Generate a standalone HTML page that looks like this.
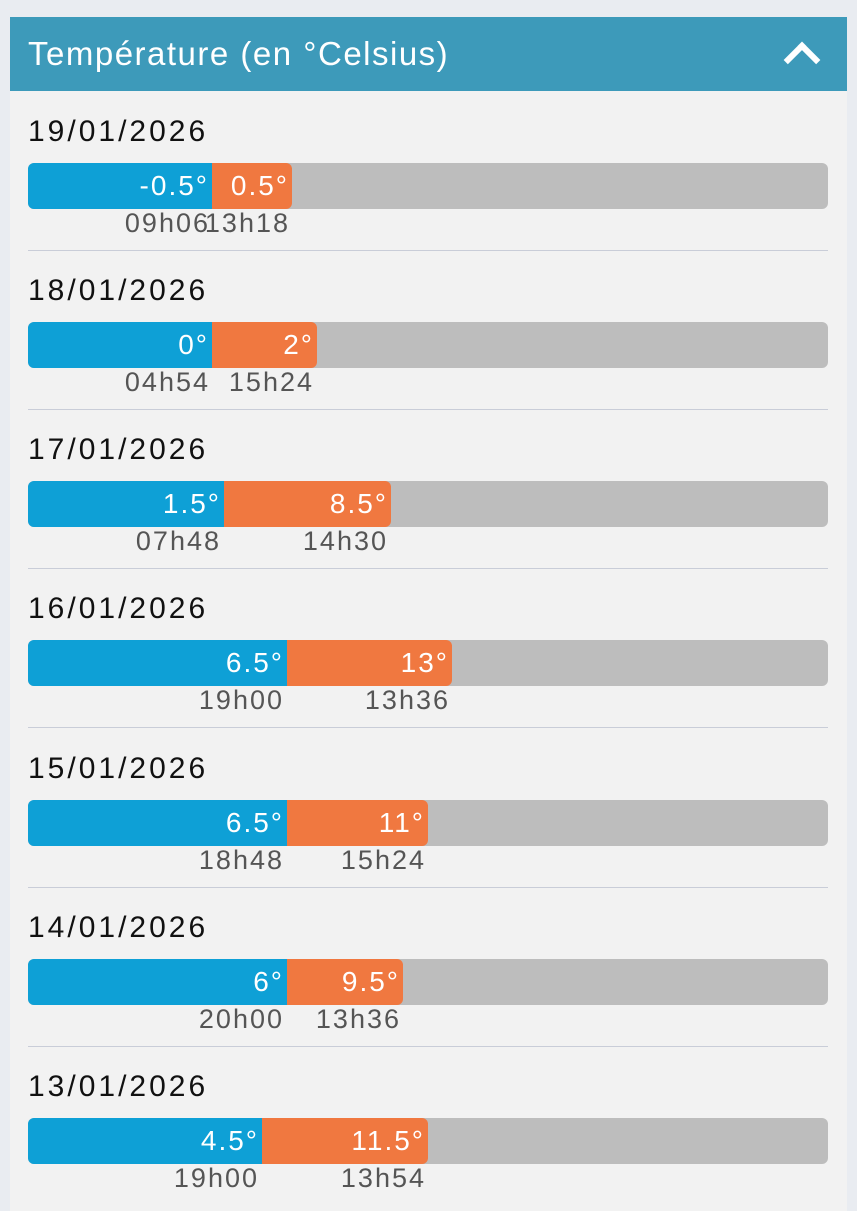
<!DOCTYPE html>
<html><head><meta charset="utf-8"><style>
*{margin:0;padding:0;box-sizing:border-box}
body{width:857px;height:1200px;background:#e9ecf1;font-family:"Liberation Sans",sans-serif;position:relative;overflow:hidden}
.hdr{position:absolute;left:10px;top:17px;width:837px;height:74px;background:#3d9aba;color:#fff;font-size:33px;line-height:74px;padding-left:18px;letter-spacing:1.5px}
.chev{position:absolute;right:32px;top:30px;width:26px;height:26px;border-left:6px solid #fff;border-top:6px solid #fff;transform:rotate(45deg)}
.body{position:absolute;left:10px;top:91px;width:837px;height:1120px;background:#f2f2f2}
.row{position:absolute;left:0;width:857px;height:160px}
.date{position:absolute;left:28px;top:23px;font-size:30px;color:#111;letter-spacing:3px}
.bar{position:absolute;left:28px;top:71px;width:800px;height:46px;background:#bdbdbd;border-radius:6px}
.b{position:absolute;left:28px;top:71px;height:46px;background:#0ea0d6;border-radius:6px 0 0 6px;color:#fff;font-size:28px;line-height:46px;text-align:right;padding-right:3px;letter-spacing:2px}
.o{position:absolute;top:71px;height:46px;background:#f07840;border-radius:0 6px 6px 0;color:#fff;font-size:28px;line-height:46px;text-align:right;padding-right:3px;letter-spacing:2px}
.t{position:absolute;top:114px;font-size:27px;color:#555;text-align:right;line-height:34px;letter-spacing:2px}
.sep{position:absolute;left:28px;top:158px;width:800px;height:1px;background:#c9cdd8}
</style></head><body>
<div class="hdr">Température (en °Celsius)<div class="chev"></div></div>
<div class="body"></div>

<div class="row" style="top:92px">
<div class="date">19/01/2026</div><div class="bar"></div>
<div class="b" style="width:184px">-0.5°</div><div class="o" style="left:212px;width:80px">0.5°</div>
<div class="t" style="left:0;width:210px">09h06</div><div class="t" style="left:0;width:290px">13h18</div>
<div class="sep"></div></div>

<div class="row" style="top:251px">
<div class="date">18/01/2026</div><div class="bar"></div>
<div class="b" style="width:184px">0°</div><div class="o" style="left:212px;width:105px">2°</div>
<div class="t" style="left:0;width:210px">04h54</div><div class="t" style="left:0;width:314px">15h24</div>
<div class="sep"></div></div>

<div class="row" style="top:410px">
<div class="date">17/01/2026</div><div class="bar"></div>
<div class="b" style="width:196px">1.5°</div><div class="o" style="left:224px;width:167px">8.5°</div>
<div class="t" style="left:0;width:221px">07h48</div><div class="t" style="left:0;width:388px">14h30</div>
<div class="sep"></div></div>

<div class="row" style="top:569px">
<div class="date">16/01/2026</div><div class="bar"></div>
<div class="b" style="width:259px">6.5°</div><div class="o" style="left:287px;width:165px">13°</div>
<div class="t" style="left:0;width:284px">19h00</div><div class="t" style="left:0;width:450px">13h36</div>
<div class="sep"></div></div>

<div class="row" style="top:729px">
<div class="date">15/01/2026</div><div class="bar"></div>
<div class="b" style="width:259px">6.5°</div><div class="o" style="left:287px;width:141px">11°</div>
<div class="t" style="left:0;width:284px">18h48</div><div class="t" style="left:0;width:426px">15h24</div>
<div class="sep"></div></div>

<div class="row" style="top:888px">
<div class="date">14/01/2026</div><div class="bar"></div>
<div class="b" style="width:259px">6°</div><div class="o" style="left:287px;width:116px">9.5°</div>
<div class="t" style="left:0;width:284px">20h00</div><div class="t" style="left:0;width:401px">13h36</div>
<div class="sep"></div></div>

<div class="row" style="top:1047px">
<div class="date">13/01/2026</div><div class="bar"></div>
<div class="b" style="width:234px">4.5°</div><div class="o" style="left:262px;width:166px">11.5°</div>
<div class="t" style="left:0;width:259px">19h00</div><div class="t" style="left:0;width:426px">13h54</div>
</div>
</body></html>
